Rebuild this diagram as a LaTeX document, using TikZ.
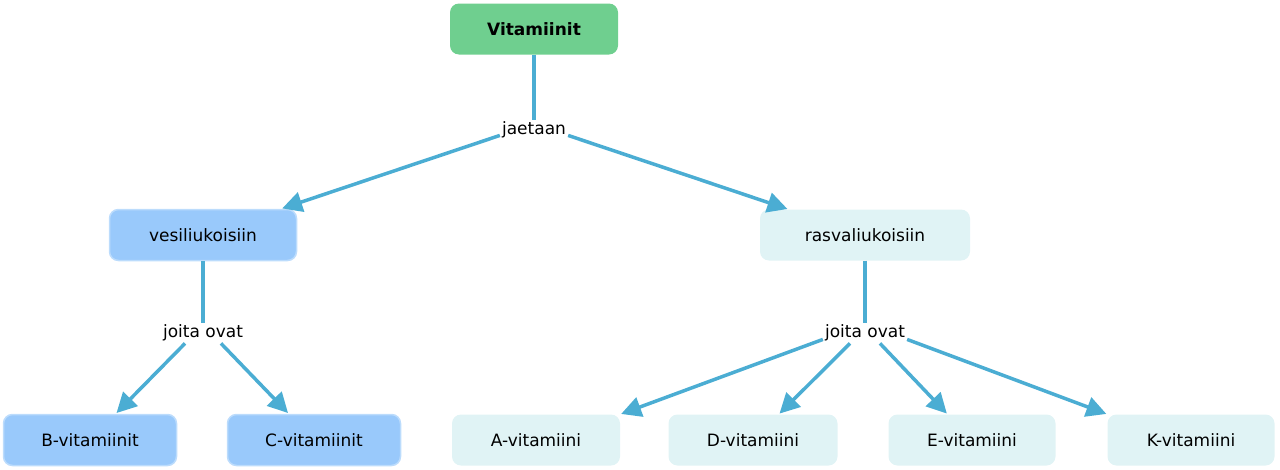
\documentclass[tikz,border=0pt]{standalone}
\usepackage{fontspec}
\setmainfont{DejaVu Sans}
\usetikzlibrary{arrows.meta}
\definecolor{edge}{HTML}{4BADD3}
\definecolor{gr}{HTML}{6FCF8F}
\definecolor{bl}{HTML}{99C9FB}
\definecolor{blb}{HTML}{BCDCFC}
\definecolor{lt}{HTML}{E0F3F5}
\begin{document}
\begin{tikzpicture}[x=1pt,y=-1pt,
  box/.style={rounded corners=9pt,minimum height=51pt,font=\fontsize{17}{20}\selectfont,inner sep=0pt},
  lbl/.style={font=\fontsize{17}{20}\selectfont,fill=white,inner sep=2pt},
  con/.style={draw=edge,line width=3.5pt},
  arr/.style={con,-{Triangle[length=20pt,width=20pt]},shorten >=1pt}]
\useasboundingbox (0,0) rectangle (1280,469);
\node[box,fill=gr,minimum width=168pt,font=\fontsize{17}{20}\selectfont\bfseries] (v) at (534,29) {Vitamiinit};
\node[box,fill=bl,draw=blb,line width=1.5pt,minimum width=187pt] (w) at (203,235) {vesiliukoisiin};
\node[box,fill=lt,minimum width=210pt] (f) at (865,235) {rasvaliukoisiin};
\node[box,fill=bl,draw=blb,line width=1.5pt,minimum width=173pt] (b) at (90,440) {B-vitamiinit};
\node[box,fill=bl,draw=blb,line width=1.5pt,minimum width=173pt] (c) at (314,440) {C-vitamiinit};
\node[box,fill=lt,minimum width=168pt] (a) at (536,440) {A-vitamiini};
\node[box,fill=lt,minimum width=169pt] (d) at (753,440) {D-vitamiini};
\node[box,fill=lt,minimum width=167pt] (e) at (972,440) {E-vitamiini};
\node[box,fill=lt,minimum width=167pt] (k) at (1191,440) {K-vitamiini};
\node[lbl] (j) at (534,130) {jaetaan};
\node[lbl] (jl) at (203,333) {joita ovat};
\node[lbl] (jr) at (865,333) {joita ovat};
\draw[con] (v) -- (j);
\draw[arr] (j.south west) ++(0,-5) coordinate (j1) (j1) -- (w);
\draw[arr] (j.south east) ++(0,-5) coordinate (j2) (j2) -- (f);
\draw[con] (w) -- (jl);
\draw[arr] (jl.south) ++(-18,0) coordinate (l1) (l1) -- (b);
\draw[arr] (jl.south) ++(18,0) coordinate (l2) (l2) -- (c);
\draw[con] (f) -- (jr);
\draw[arr] (jr.south west) ++(0,-4) coordinate (r1) (r1) -- (a.north east);
\draw[arr] (jr.south) ++(-15,0) coordinate (r2) (r2) -- (d);
\draw[arr] (jr.south) ++(15,0) coordinate (r3) (r3) -- (e);
\draw[arr] (jr.south east) ++(0,-4) coordinate (r4) (r4) -- (k.north west);
\end{tikzpicture}
\end{document}
